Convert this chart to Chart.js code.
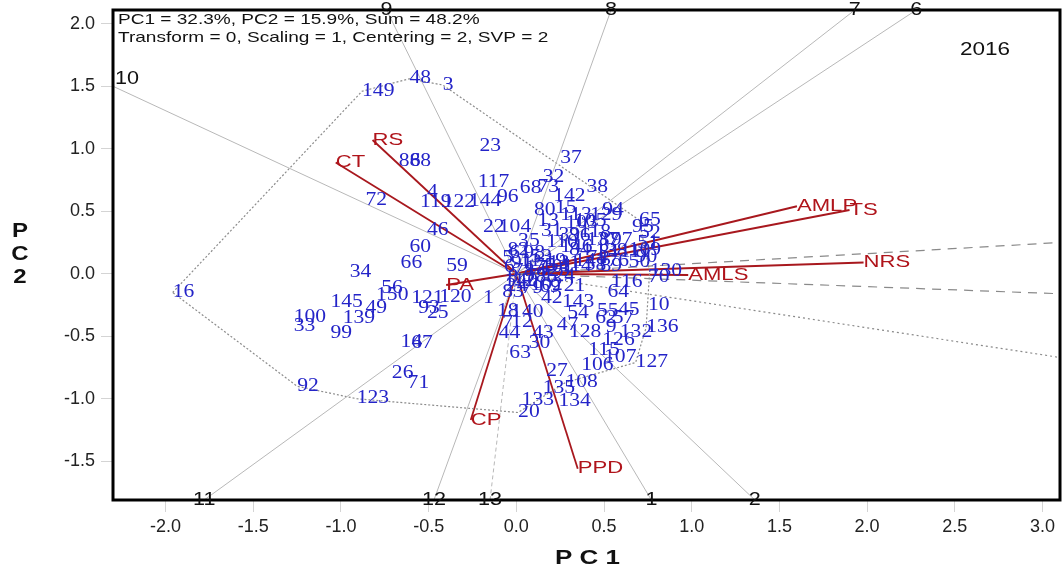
<!DOCTYPE html>
<html>
<head>
<meta charset="utf-8">
<script src="https://cdn.jsdelivr.net/npm/chart.js@4.4.0/dist/chart.umd.min.js"></script>
<style>
html,body{margin:0;padding:0;background:#fff}
</style>
</head>
<body>
<canvas id="c" width="1062" height="574"></canvas>
<script>
// genotype scores (PC1, PC2)
var genoNames = ["149","48","3","23","37","32","73","68","38","142","117","96","4","119","122","144","72","86","88","46","60","66","59","34","16","56","150","145","49","100","33","139","99","121","120","93","25","14","67","26","71","92","123","63","27","108","135","133","134","20","106","107","115","126","132","9","127","136","10","45","55","62","57","130","70","116","64","21","69","42","143","54","47","128","43","30","44","12","7","18","1","140","80","13","22","104","35","146","129","94","65","95","52","51","109","90","50","97","87","81","111","19","58","114","15","113","103","105","31","110","36","39","118","137","138","84","141","76","89","74","5","6","8","11","17","24","40","53","61","75","77","78","79","83","85","91","98","101","102","112","124","125","131","82"];
var genoX = [-0.88,-0.61,-0.42,-0.21,0.25,0.15,0.12,0.02,0.40,0.21,-0.22,-0.11,-0.51,-0.55,-0.42,-0.27,-0.86,-0.67,-0.61,-0.51,-0.61,-0.66,-0.40,-0.95,-1.96,-0.77,-0.80,-1.06,-0.86,-1.27,-1.27,-0.99,-1.06,-0.60,-0.44,-0.56,-0.51,-0.66,-0.60,-0.71,-0.62,-1.25,-0.91,-0.04,0.17,0.28,0.15,0.03,0.24,0.01,0.37,0.50,0.41,0.49,0.59,0.51,0.68,0.74,0.75,0.58,0.46,0.45,0.55,0.76,0.75,0.54,0.52,0.27,0.13,0.14,0.26,0.29,0.23,0.30,0.09,0.07,-0.10,-0.03,-0.08,-0.11,-0.19,-0.03,0.10,0.12,-0.19,-0.10,0.01,0.25,0.42,0.49,0.70,0.66,0.70,0.69,0.64,0.68,0.64,0.54,0.47,0.47,0.59,0.16,0.39,0.25,0.22,0.25,0.28,0.33,0.14,0.17,0.30,0.24,0.36,0.40,0.45,0.30,0.33,0.52,0.48,0.40,-0.08,-0.07,-0.05,0.02,0.05,-0.06,0.00,0.08,-0.04,0.10,0.06,-0.02,0.03,-0.08,0.11,-0.03,0.04,0.14,0.08,-0.07,0.15,0.12,0.18,-0.05];
var genoY = [1.46,1.56,1.51,1.02,0.92,0.77,0.69,0.68,0.69,0.62,0.73,0.61,0.65,0.57,0.57,0.58,0.59,0.90,0.90,0.35,0.21,0.08,0.06,0.01,-0.15,-0.12,-0.17,-0.23,-0.28,-0.35,-0.42,-0.36,-0.48,-0.20,-0.19,-0.28,-0.32,-0.55,-0.56,-0.80,-0.88,-0.90,-1.00,-0.64,-0.78,-0.87,-0.92,-1.01,-1.02,-1.11,-0.73,-0.67,-0.61,-0.53,-0.47,-0.43,-0.71,-0.43,-0.25,-0.29,-0.30,-0.36,-0.36,0.02,-0.03,-0.07,-0.15,-0.10,-0.11,-0.20,-0.23,-0.32,-0.41,-0.47,-0.48,-0.56,-0.48,-0.39,-0.40,-0.30,-0.20,-0.31,0.51,0.42,0.37,0.37,0.26,0.21,0.47,0.51,0.43,0.37,0.32,0.24,0.19,0.13,0.09,0.27,0.27,0.17,0.17,0.10,0.07,0.06,0.52,0.47,0.40,0.42,0.34,0.25,0.30,0.31,0.33,0.27,0.18,0.19,0.10,0.10,0.06,0.12,0.12,0.05,-0.03,0.10,0.04,-0.10,-0.06,0.13,0.16,0.06,-0.02,0.02,-0.12,-0.15,-0.03,0.08,0.16,0.05,-0.09,-0.06,-0.02,0.02,0.08,0.19];

// trait vectors
var traitNames = ["RS","CT","AMLP","TS","NRS","AMLS","PA","CP","PPD"];
var traitX = [-0.82,-1.03,1.60,1.90,1.98,0.98,-0.40,-0.26,0.35];
var traitY = [1.07,0.89,0.54,0.51,0.09,-0.01,-0.09,-1.17,-1.56];

// polygon (convex hull) vertices, by genotype
var hullOrder = ["16","149","48","3","65","130","136","127","108","20","123","92","16"];

// rays perpendicular to the hull sides, ending at the frame
var rayNames = ["1","2","6","7","8","9","10","11","12","13"];
var rayX = [0.77,1.36,2.28,1.93,0.54,-0.74,-2.30,-1.78,-0.47,-0.15];
var rayY = [-1.81,-1.81,2.11,2.11,2.11,2.11,1.50,-1.81,-1.81,-1.81];
// rays leaving through the right side (labels outside)
var sideRayX = [3.10,3.10,3.10];
var sideRayY = [0.25,-0.16,-0.67];

var xMin = -2.30, xMax = 3.10, yMin = -1.81, yMax = 2.11;

var datasets = [];
for (var i = 0; i < rayNames.length; i++) {
	datasets.push({
		data: [{x:0,y:0},{x:rayX[i],y:rayY[i]}],
		showLine: true, pointRadius: 0,
		borderColor: "#b8b8b8", borderWidth: 1,
		borderDash: rayNames[i] == "13" ? [4,3] : []
	});
}
for (var i = 0; i < sideRayX.length; i++) {
	datasets.push({
		data: [{x:0,y:0},{x:sideRayX[i],y:sideRayY[i]}],
		showLine: true, pointRadius: 0,
		borderColor: "#8a8a8a", borderWidth: 1.2,
		borderDash: i < 2 ? [9,7] : [2,3]
	});
}
var hull = hullOrder.map(function (n) {
	var k = genoNames.indexOf(n);
	return {x: genoX[k], y: genoY[k]};
});
datasets.push({
	data: hull, showLine: true, pointRadius: 0,
	borderColor: "#8c8c8c", borderWidth: 1.2, borderDash: [2,2]
});
for (var i = 0; i < traitNames.length; i++) {
	datasets.push({
		data: [{x:0,y:0},{x:traitX[i],y:traitY[i]}],
		showLine: true, pointRadius: 0,
		borderColor: "#a8181e", borderWidth: 1.8
	});
}
var genoIndex = datasets.length;
datasets.push({
	data: genoX.map(function (v, k) { return {x: v, y: genoY[k]}; }),
	pointRadius: 0, showLine: false
});

function txt(ctx, s, x, y, font, color, align, sx) {
	ctx.save();
	ctx.font = font;
	ctx.fillStyle = color;
	ctx.textBaseline = "middle";
	ctx.textAlign = align;
	ctx.translate(x, y);
	ctx.scale(sx, 1);
	ctx.fillText(s, 0, 0);
	ctx.restore();
}

var labels = {
	id: "labels",
	afterDatasetsDraw: function (chart) {
		var ctx = chart.ctx, a = chart.chartArea;
		var sx = chart.scales.x, sy = chart.scales.y;
		// frame
		ctx.save();
		ctx.strokeStyle = "#000";
		ctx.lineWidth = 3;
		ctx.strokeRect(a.left, a.top, a.right - a.left, a.bottom - a.top);
		ctx.restore();
		// genotype labels
		var pts = chart.getDatasetMeta(genoIndex).data;
		for (var i = 0; i < pts.length; i++) {
			txt(ctx, genoNames[i], pts[i].x, pts[i].y, '18px "Liberation Serif"', "#2424c8", "left", 1.2);
		}
		// trait labels
		for (var i = 0; i < traitNames.length; i++) {
			var px = sx.getPixelForValue(traitX[i]), py = sy.getPixelForValue(traitY[i]);
			txt(ctx, traitNames[i], px, py, '17px "Liberation Sans"', "#b0141b", "left", 1.3);
		}
		// ray labels
		for (var i = 0; i < rayNames.length; i++) {
			var px = sx.getPixelForValue(rayX[i]), py = sy.getPixelForValue(rayY[i]);
			if (rayX[i] <= xMin + 0.01) {
				txt(ctx, rayNames[i], px + 2, py - 7, '18px "Liberation Sans"', "#111", "left", 1.2);
			} else {
				txt(ctx, rayNames[i], px, py, '18px "Liberation Sans"', "#111", "center", 1.2);
			}
		}
		txt(ctx, "PC1 = 32.3%, PC2 = 15.9%, Sum = 48.2%", a.left + 5, 20, '15px "Liberation Sans"', "#111", "left", 1.27);
		txt(ctx, "Transform = 0, Scaling = 1, Centering = 2, SVP = 2", a.left + 5, 38, '15px "Liberation Sans"', "#111", "left", 1.27);
		txt(ctx, "2016", 960, 50, '18px "Liberation Sans"', "#111", "left", 1.25);
		// axis titles
		txt(ctx, "P C 1", (a.left + a.right) / 2 + 1, 558, 'bold 20px "Liberation Sans"', "#111", "center", 1.3);
		txt(ctx, "P", 20, 231, 'bold 20px "Liberation Sans"', "#111", "center", 1.2);
		txt(ctx, "C", 20, 254, 'bold 20px "Liberation Sans"', "#111", "center", 1.2);
		txt(ctx, "2", 20, 277, 'bold 20px "Liberation Sans"', "#111", "center", 1.2);
	}
};

function fmt(v) { return Math.abs(v) < 1e-9 ? "0.0" : v.toFixed(1); }

new Chart(document.getElementById("c"), {
	type: "scatter",
	data: {datasets: datasets},
	options: {
		responsive: false,
		animation: false,
		devicePixelRatio: 1,
		layout: {padding: {top: 10, right: 2, left: 0, bottom: 0}},
		plugins: {legend: {display: false}, tooltip: {enabled: false}},
		scales: {
			x: {
				type: "linear", min: xMin, max: xMax,
				afterFit: function (s) { s.height = 74; s.paddingLeft = 0; s.paddingRight = 0; },
				border: {display: false},
				grid: {drawOnChartArea: false, drawTicks: true, tickLength: 12, color: "#d4d4d4"},
				ticks: {stepSize: 0.5, includeBounds: false, callback: fmt, autoSkip: false, maxRotation: 0,
					padding: 4, color: "#222", font: {family: "Liberation Sans", size: 18}}
			},
			y: {
				type: "linear", min: yMin, max: yMax,
				afterFit: function (s) { s.width = 113; s.paddingTop = 0; s.paddingBottom = 0; },
				border: {display: false},
				grid: {drawOnChartArea: false, drawTicks: true, tickLength: 12, color: "#d4d4d4"},
				ticks: {stepSize: 0.5, includeBounds: false, callback: fmt, autoSkip: false,
					padding: 6, color: "#222", font: {family: "Liberation Sans", size: 18}}
			}
		}
	},
	plugins: [labels]
});
</script>
</body>
</html>
